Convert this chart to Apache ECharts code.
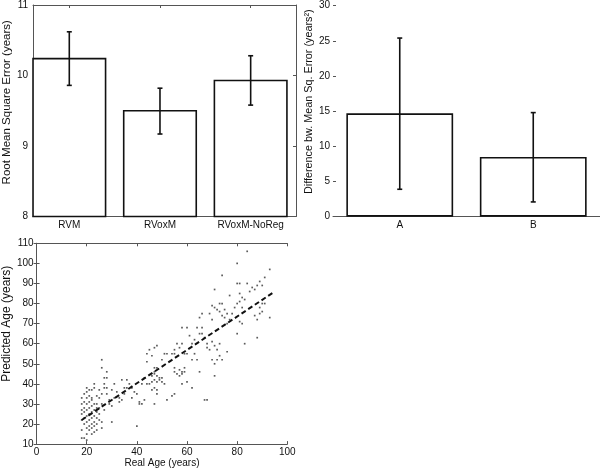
<!DOCTYPE html>
<html><head><meta charset="utf-8">
<script src="https://cdn.jsdelivr.net/npm/echarts@6/dist/echarts.min.js"></script>
<style>html,body{margin:0;padding:0;background:#fff}#c{width:600px;height:469px}</style>
</head><body><div id="c"></div>
<script>
// ---- data ----
const rmseCategories = ['RVM', 'RVoxM', 'RVoxM-NoReg'];
const rmseValues = [10.24, 9.50, 9.93];
const rmseLow = [9.86, 9.17, 9.58];
const rmseHigh = [10.62, 9.82, 10.28];
const rmseTicks = [8, 9, 10, 11];

const diffCategories = ['A', 'B'];
const diffValues = [14.7, 8.5];
const diffLow = [3.9, 2.1];
const diffHigh = [25.4, 14.8];

const agePoints = [
 [84,106],[80,100],[74,94],[93,97],[80,90],[81,90],[84,90],[71,87],[88,89],[89,91],[90,89],[91,93],
 [77,84],[81,85],[82,83],[83,82],[85,86],[86,88],[87,87],[73,80],[74,80],[73,76],[75,77],[70,79],
 [72,77],[71,78],[70,72],[69,75],[80,80],[79,78],[81,81],[82,78],[89,78],[90,76],[90,80],[91,80],
 [89,75],[93,73],[87,74],[88,72],[80,65],[81,71],[82,70],[88,63],[83,60],[76,75],[77,72],[78,75],
 [74,74],[75,73],[76,70],[65,73],[66,68],[66,75],[67,63],[68,60],[70,61],[71,59],[72,57],[73,60],
 [73,54],[74,52],[72,52],[70,52],[71,50],[68,58],[69,57],[76,56],[71,44],[67,32],[68,32],[65,46],
 [64,52],[63,55],[62,52],[60,68],[61,64],[62,60],[63,62],[58,68],[64,68],[65,65],[66,65],[58,60],
 [59,55],[60,55],[57,58],[55,57],[55,55],[56,60],[54,55],[59,48],[58,46],[59,46],[57,47],[58,45],
 [57,44],[56,45],[55,46],[55,48],[55,35],[54,34],[58,40],[60,41],[62,38],[51,55],[50,52],[52,55],
 [48,59],[47,58],[46,54],[45,57],[44,51],[44,55],[47,48],[48,48],[49,43],[48,44],[47,46],[46,44],
 [47,45],[46,41],[47,42],[48,41],[49,42],[50,41],[45,40],[44,40],[46,37],[47,38],[48,37],[48,35],
 [51,40],[52,32],[50,43],[47,30],[43,32],[41,31],[41,30],[40,19],[40,35],[39,36],[38,38],[37,40],
 [42,40],[43,43],[36,42],[34,42],[33,33],[35,35],[34,32],[31,40],[30,37],[31,33],[29,30],[30,21],
 [28,46],[28,43],[27,40],[27,38],[28,38],[26,52],[26,48],[27,43],[25,37],[26,35],[25,33],[26,30],
 [27,27],[24,28],[23,40],[23,38],[22,37],[24,34],[22,33],[28,35],[29,32],[30,29],[32,36],[33,31],
 [35,38],[36,38],[38,33],[42,30],
 [18,13],[19,13],[20,12],[18,17],[18,22],[18,25],[18,27],[18,30],[18,33],
 [19,20],[19,23],[19,26],[19,28],[19,31],[19,35],
 [20,15],[20,18],[20,21],[20,24],[20,27],[20,30],[20,33],[20,36],[20,38],
 [21,17],[21,19],[21,22],[21,25],[21,28],[21,31],[21,34],[21,37],
 [22,15],[22,18],[22,20],[22,23],[22,26],[22,29],[22,32],
 [23,16],[23,19],[23,21],[23,24],[23,27],[23,30],
 [24,17],[24,20],[24,23],[24,26],[24,30],
 [25,22],[25,25],[25,28],[26,18],[26,21]
];
const fitRealAge = [18, 95];
const fitPredictedAge = [22, 86];

// ---- styles ----
const font = "'Liberation Sans', Arial, sans-serif";
const axisCol = '#555';
const lbl = {fontFamily: font, fontSize: 10, color: '#111'};
const line = {lineStyle: {color: axisCol, width: 1}};
const tick = (extra) => Object.assign({show: true, inside: true, length: 3, lineStyle: {color: axisCol}}, extra || {});
const noSplit = {show: false};

function errRender(params, api) {
  const x = api.value(0);
  const lo = api.coord([x, api.value(1)]);
  const hi = api.coord([x, api.value(2)]);
  const w = 2.5, st = {stroke: '#111', lineWidth: 1.6};
  return {type: 'group', children: [
    {type: 'line', shape: {x1: lo[0], y1: lo[1], x2: hi[0], y2: hi[1]}, style: st},
    {type: 'line', shape: {x1: lo[0] - w, y1: lo[1], x2: lo[0] + w, y2: lo[1]}, style: st},
    {type: 'line', shape: {x1: hi[0] - w, y1: hi[1], x2: hi[0] + w, y2: hi[1]}, style: st}
  ]};
}

const rmseMin = rmseTicks[0];
const catPos = rmseCategories.map((c, i) => i + 1);

const option = {
  animation: false,
  backgroundColor: '#fff',
  grid: [
    {left: 33, top: 4, width: 263, height: 212.5},
    {left: 333, top: 5.7, width: 267, height: 211},
    {left: 29, top: 243.3, width: 258.3, height: 205}
  ],
  xAxis: [
    {gridIndex: 0, type: 'value', min: 0.6, max: 3.5, axisLine: line, splitLine: noSplit,
     axisTick: tick({customValues: catPos}),
     axisLabel: Object.assign({customValues: catPos, margin: 4, formatter: v => rmseCategories[Math.round(v) - 1]}, lbl)},
    {gridIndex: 0, type: 'value', position: 'top', min: 0.6, max: 3.5, axisLine: line, splitLine: noSplit,
     axisTick: tick({customValues: catPos}), axisLabel: {show: false}},
    {gridIndex: 1, type: 'category', data: diffCategories, axisLine: line,
     axisTick: tick({alignWithLabel: true}), axisLabel: Object.assign({margin: 4}, lbl)},
    {gridIndex: 2, type: 'value', min: 0, max: 100, interval: 20, axisLine: line, splitLine: noSplit,
     axisTick: tick(), axisLabel: Object.assign({margin: 3}, lbl),
     name: 'Real Age (years)', nameLocation: 'middle', nameGap: 9,
     nameTextStyle: {fontFamily: font, fontSize: 10, color: '#111'}},
    {gridIndex: 2, type: 'value', position: 'top', min: 0, max: 100, interval: 20, axisLine: line, splitLine: noSplit,
     axisTick: tick(), axisLabel: {show: false}}
  ],
  yAxis: [
    {gridIndex: 0, type: 'value', min: 8, max: 11, interval: 1, axisLine: line, splitLine: noSplit,
     axisTick: tick(), axisLabel: Object.assign({margin: 5}, lbl),
     name: 'Root Mean Square Error (years)', nameLocation: 'middle', nameGap: 20,
     nameTextStyle: {fontFamily: font, fontSize: 11.5, color: '#111', padding: [0, 0, 0, 17]}},
    {gridIndex: 0, type: 'value', position: 'right', min: 8, max: 11, interval: 1, axisLine: line, splitLine: noSplit,
     axisTick: tick(), axisLabel: {show: false}},
    {gridIndex: 1, type: 'value', min: 0, max: 30, interval: 5, axisLine: line, splitLine: noSplit,
     axisTick: tick(), axisLabel: Object.assign({margin: 3}, lbl),
     name: 'Difference bw. Mean Sq. Error (years\u00B2)', nameLocation: 'middle', nameGap: 15,
     nameTextStyle: {fontFamily: font, fontSize: 10.8, color: '#111', padding: [0, 0, 0, 19]}},
    {gridIndex: 2, type: 'value', min: 10, max: 110, interval: 10, axisLine: line, splitLine: noSplit,
     axisTick: tick(), axisLabel: Object.assign({margin: 3}, lbl),
     name: 'Predicted Age (years)', nameLocation: 'middle', nameGap: 18,
     nameTextStyle: {fontFamily: font, fontSize: 12, color: '#111', padding: [0, 0, 0, 40]}},
    {gridIndex: 2, type: 'value', position: 'right', min: 10, max: 110, interval: 10, axisLine: line, splitLine: noSplit,
     axisTick: tick(), axisLabel: {show: false}}
  ],
  series: [
    {type: 'custom', xAxisIndex: 0, yAxisIndex: 0, silent: true,
     data: rmseValues.map((v, i) => [catPos[i], v]),
     renderItem: (params, api) => {
       const x = api.value(0), v = api.value(1);
       const tl = api.coord([x - 0.4, v]);
       const br = api.coord([x + 0.4, rmseMin]);
       return {type: 'rect', shape: {x: tl[0], y: tl[1], width: br[0] - tl[0], height: br[1] - tl[1]},
               style: {fill: '#fff', stroke: '#111', lineWidth: 1.6}};
     }, z: 2},
    {type: 'custom', xAxisIndex: 0, yAxisIndex: 0, silent: true, z: 3,
     data: rmseLow.map((lo, i) => [catPos[i], lo, rmseHigh[i]]), renderItem: errRender},
    {type: 'bar', xAxisIndex: 2, yAxisIndex: 2, silent: true, barWidth: '80%', data: diffValues,
     itemStyle: {color: '#fff', borderColor: '#111', borderWidth: 1.6}, z: 2},
    {type: 'custom', xAxisIndex: 2, yAxisIndex: 2, silent: true, z: 3,
     data: diffLow.map((lo, i) => [i, lo, diffHigh[i]]), renderItem: errRender},
    {type: 'scatter', xAxisIndex: 3, yAxisIndex: 3, silent: true, symbol: 'rect', symbolSize: 1.7,
     itemStyle: {color: '#333'}, data: agePoints},
    {type: 'line', xAxisIndex: 3, yAxisIndex: 3, silent: true, symbol: 'none',
     data: fitRealAge.map((x, i) => [x, fitPredictedAge[i]]),
     lineStyle: {color: '#111', width: 2, type: [5, 3]}, z: 3}
  ]
};
const chart = echarts.init(document.getElementById('c'), null, {renderer: 'canvas'});
chart.setOption(option);
</script>
</body></html>
